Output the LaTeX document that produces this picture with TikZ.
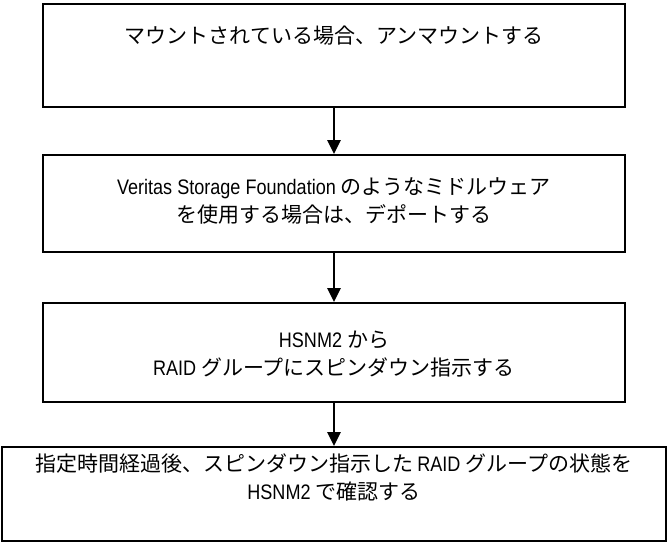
\documentclass[tikz,border=0pt]{standalone}
\usepackage{fontspec}
\setmainfont{Liberation Sans}[FakeStretch=0.86]
\newfontfamily\jp{Noto Sans CJK JP}
\usetikzlibrary{arrows.meta}
\tikzset{
  box/.style={draw=black, line width=2pt, rectangle, inner sep=0pt},
  txt/.style={align=center, inner sep=0pt, font=\fontsize{21}{28}\selectfont},
  arr/.style={draw=black, line width=2.8pt, -{Triangle[length=14pt,width=13pt]}}
}
\begin{document}
\begin{tikzpicture}[x=1pt,y=-1pt]
\useasboundingbox (0,0) rectangle (668,542);
\node[box, minimum width=582pt, minimum height=103pt] (b1) at (334,55.5) {};
\node[box, minimum width=582pt, minimum height=97pt] (b2) at (334,203.5) {};
\node[box, minimum width=582pt, minimum height=99pt] (b3) at (334,352.5) {};
\node[box, minimum width=664pt, minimum height=94pt] (b4) at (334,494) {};
\node[txt] (t1) at (334,36) {\jp マウントされている場合、アンマウントする};
\node[txt] (t2) at (334,201) {Veritas Storage Foundation {\jp のようなミドルウェア}\\{\jp を使用する場合は、デポートする}};
\node[txt] (t3) at (334,354) {HSNM2 {\jp から}\\RAID {\jp グループにスピンダウン指示する}};
\node[txt] (t4) at (334,477) {{\jp 指定時間経過後、スピンダウン指示した}\,RAID {\jp グループの状態を}\\HSNM2 {\jp で確認する}};
\draw[arr] (b1.south) -- (b2.north);
\draw[arr] (b2.south) -- (b3.north);
\draw[arr] (b3.south) -- (b4.north);
\end{tikzpicture}
\end{document}
